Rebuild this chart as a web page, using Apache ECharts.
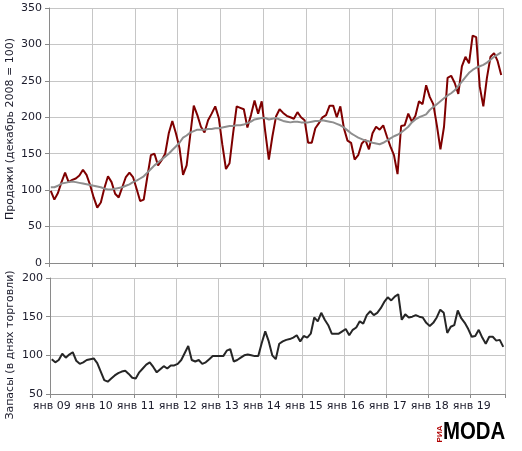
<!DOCTYPE html>
<html>
<head>
<meta charset="utf-8">
<script src="https://cdn.jsdelivr.net/npm/echarts@6/dist/echarts.min.js"></script>
<style>
  html, body { margin: 0; padding: 0; background: #fff; }
  #chart { width: 522px; height: 451px; }
</style>
</head>
<body>
<div id="chart"></div>
<script>
// месячные данные, первый месяц — январь 2009
const startYear = 2009
const monthNames = ['янв', 'фев', 'мар', 'апр', 'май', 'июн', 'июл', 'авг', 'сен', 'окт', 'ноя', 'дек']

// продажи (декабрь 2008 = 100)
const sales = [
  99, 87, 96, 111, 124, 111, 114, 116, 120, 128, 121, 107,
  90, 76, 83, 103, 119, 111, 95, 90, 104, 118, 124, 118,
  102, 85, 87, 118, 148, 150, 134, 141, 150, 178, 195, 178,
  158, 121, 134, 175, 216, 203, 187, 179, 196, 205, 215, 199,
  162, 129, 137, 178, 215, 213, 211, 186, 203, 223, 205, 222,
  180, 142, 174, 201, 211, 206, 202, 200, 198, 207, 200, 196,
  165, 165, 185, 192, 200, 203, 216, 216, 200, 215, 185, 168,
  165, 142, 148, 164, 169, 156, 178, 187, 183, 189, 174, 160,
  148, 122, 188, 189, 205, 194, 202, 222, 218, 244, 228, 218,
  189, 156, 187, 254, 257, 247, 232, 270, 283, 274, 312, 310,
  242, 215, 254, 283, 288, 277, 258
]

// сглаженный тренд продаж
const salesTrend = [
  104, 104, 106, 109, 110, 111, 112, 111, 110, 109, 108, 107,
  106, 105, 104, 102, 101, 101, 102, 103, 104, 106, 108, 111,
  113, 116, 119, 124, 129, 134, 138, 142, 146, 150, 155, 160,
  165, 172, 175, 179, 181, 183, 183, 183, 184, 184, 185, 185,
  186, 187, 188, 188, 189, 189, 190, 192, 194, 197, 198, 199,
  199, 197, 198, 199, 197, 195, 194, 193, 194, 194, 193, 193,
  193, 194, 195, 195, 196, 195, 194, 193, 191, 189, 186, 182,
  178, 175, 172, 170, 168, 167, 165, 164, 163, 165, 168, 171,
  174, 176, 179, 183, 187, 193, 197, 200, 202, 204, 210, 214,
  218, 222, 226, 230, 233, 237, 243, 249, 255, 261, 265, 268,
  270, 272, 275, 279, 283, 286, 289
]

// запасы (в днях торговли)
const stock = [
  95, 91, 94, 102, 97, 101, 104, 93, 89, 91, 94, 95,
  96, 90, 79, 68, 66, 70, 74, 77, 79, 80, 76, 71,
  70, 78, 83, 88, 91, 85, 78, 82, 86, 83, 87, 87,
  89, 94, 103, 112, 94, 92, 94, 89, 91, 95, 99, 99,
  99, 99, 106, 108, 92, 94, 97, 100, 101, 100, 99, 99,
  116, 131, 118, 100, 95, 115, 118, 120, 121, 123, 126, 118,
  125, 123, 128, 149, 144, 155, 146, 139, 128, 128, 128, 131,
  134, 126, 133, 136, 144, 141, 152, 157, 152, 155, 161, 169,
  175, 171, 176, 179, 146, 153, 149, 150, 152, 150, 149, 142,
  138, 142, 149, 159, 155, 129, 137, 139, 158, 148, 142, 134,
  124, 125, 133, 123, 115, 124, 124, 119, 120, 111
]

const salesTicks = [0, 350, 50]
const stockTicks = [50, 200, 50]

const monthCategories = (n) => {
  const out = []
  for (let i = 0; i < n; i++) {
    const yy = String((startYear + Math.floor(i / 12)) % 100).padStart(2, '0')
    out.push(monthNames[i % 12] + ' ' + yy)
  }
  return out
}

const textColor = '#1b1b2b'
const gridColor = '#c6c6c6'
const axisColor = '#8a8a8a'
const font = 'DejaVu Sans'
const isJan = (idx) => idx % 12 === 0

const xAxisBase = (gridIndex, data, showLabel) => ({
  type: 'category',
  gridIndex,
  data,
  boundaryGap: true,
  axisLine: { lineStyle: { color: axisColor } },
  axisTick: { show: true, interval: isJan, length: 4, lineStyle: { color: axisColor } },
  splitLine: { show: true, interval: isJan, lineStyle: { color: gridColor } },
  axisLabel: {
    show: showLabel,
    interval: isJan,
    color: textColor,
    fontFamily: font,
    fontSize: 11,
    margin: 7,
    hideOverlap: false
  }
})

const yAxisBase = (gridIndex, ticks) => ({
  type: 'value',
  gridIndex,
  min: ticks[0], max: ticks[1], interval: ticks[2],
  axisLine: { show: true, lineStyle: { color: axisColor } },
  axisTick: { show: true, length: 4, lineStyle: { color: axisColor } },
  splitLine: { show: true, lineStyle: { color: gridColor } },
  axisLabel: { color: textColor, fontFamily: font, fontSize: 11, margin: 7 }
})

const chart = echarts.init(document.getElementById('chart'), null, { renderer: 'canvas' })

chart.setOption({
  animation: false,
  backgroundColor: '#fff',
  grid: [
    { left: 49, top: 8, width: 454, height: 255 },
    { left: 50, top: 278, width: 455, height: 116 }
  ],
  xAxis: [
    xAxisBase(0, monthCategories(sales.length), false),
    xAxisBase(1, monthCategories(stock.length), true)
  ],
  yAxis: [
    yAxisBase(0, salesTicks),
    yAxisBase(1, stockTicks)
  ],
  series: [
    {
      type: 'line', xAxisIndex: 0, yAxisIndex: 0, data: sales,
      symbol: 'none', lineStyle: { color: '#7f0000', width: 2 }, z: 3
    },
    {
      type: 'line', xAxisIndex: 0, yAxisIndex: 0, data: salesTrend,
      symbol: 'none', lineStyle: { color: '#8e8e8e', width: 2 }, z: 4
    },
    {
      type: 'line', xAxisIndex: 1, yAxisIndex: 1, data: stock,
      symbol: 'none', lineStyle: { color: '#262626', width: 2 }, z: 3
    }
  ],
  graphic: [
    {
      type: 'text', x: 10, y: 129, rotation: Math.PI / 2,
      style: { text: 'Продажи (декабрь 2008 = 100)', fill: textColor, font: '11px "DejaVu Sans"', align: 'center', verticalAlign: 'middle' }
    },
    {
      type: 'text', x: 10, y: 345, rotation: Math.PI / 2,
      style: { text: 'Запасы (в днях торговли)', fill: textColor, font: '11px "DejaVu Sans"', align: 'center', verticalAlign: 'middle' }
    },
    // логотип
    {
      type: 'text', x: 440, y: 434, rotation: Math.PI / 2,
      style: { text: 'РИА', fill: '#b00000', font: 'bold 8px "Liberation Sans"', align: 'center', verticalAlign: 'middle' }
    },
    {
      type: 'text', x: 443, y: 444, scaleX: 0.85,
      style: { text: 'MODA', fill: '#000', font: 'bold 24px "Liberation Sans"', align: 'left', verticalAlign: 'bottom' }
    }
  ]
})
</script>
</body>
</html>
